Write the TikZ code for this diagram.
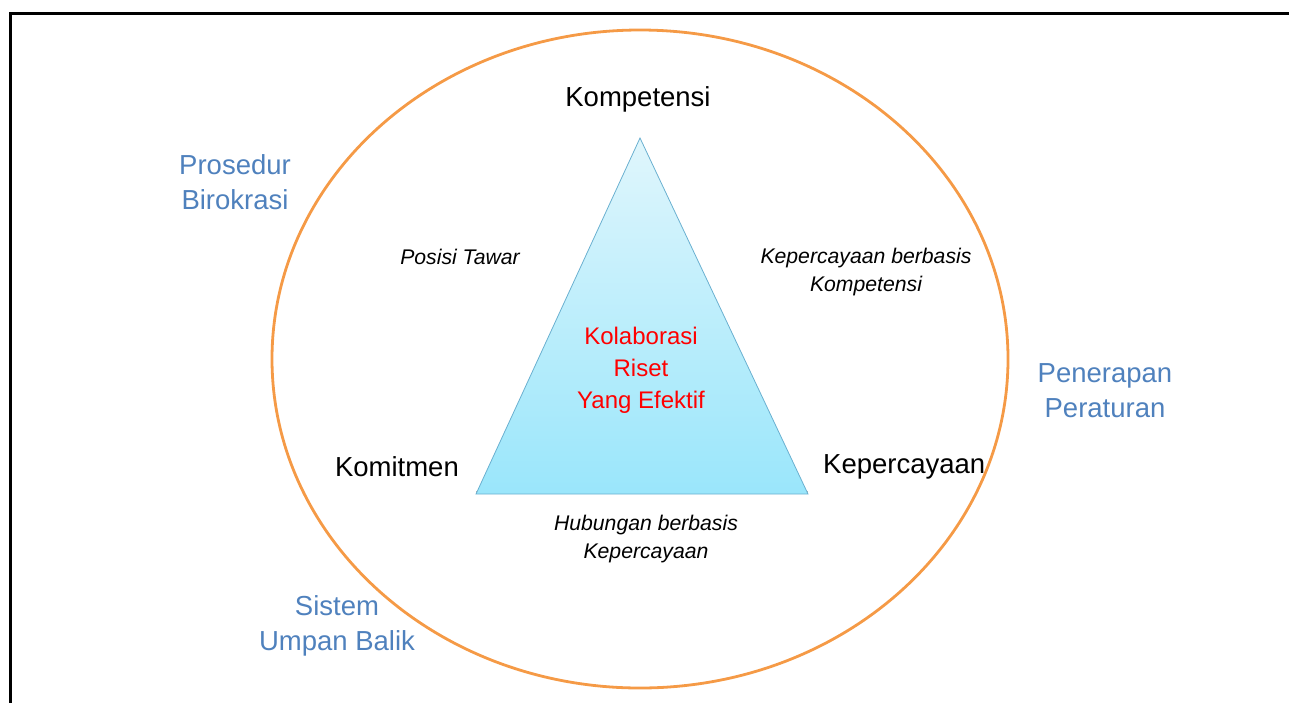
\documentclass[tikz,border=0pt]{standalone}
\usepackage{fontspec}
\setmainfont{Liberation Sans}
\usetikzlibrary{positioning}
\definecolor{blueT}{HTML}{4F81BD}
\definecolor{orangeE}{HTML}{F59A46}
\definecolor{cyanTop}{HTML}{E0F6FC}
\definecolor{cyanBot}{HTML}{9AE6FB}
\definecolor{cyanLine}{HTML}{6AB0D0}

\begin{document}
\begin{tikzpicture}[x=1pt, y=-1pt,
		big/.style  = {font=\fontsize{27.5}{35}\selectfont, align=center, inner sep=0},
		side/.style = {big, text=blueT},
		lbl/.style  = {font=\fontsize{21.2}{27.5}\selectfont\itshape, align=center, inner sep=0},
		core/.style = {font=\fontsize{24}{32}\selectfont, align=center, inner sep=0, text=red}
		]
		\useasboundingbox (0,0) rectangle (1289,702);
		
		%Frame
		\draw[line width=3pt]	(10,13) rectangle (1310,730);
		
		%Ellipse
		\draw[orangeE, line width=2.8pt]	(640,359) ellipse [x radius=368, y radius=329];
		
		%Triangle
		\coordinate	(top)	at	(640,138);
		\coordinate	(bl)	at	(476,494);
		\coordinate	(br)	at	(808,494);
		\draw[black!30, line width=1.5pt, densely dotted]	([yshift=2]bl) -- ([yshift=2]br);
		\path[draw=cyanLine, line width=0.8pt, top color=cyanTop, bottom color=cyanBot]
			(top) -- (br) -- (bl) -- cycle;
		
		%Corners
		\node[big]	(komp)	at	(638,99)	{Kompetensi};
		\node[big, anchor=east]	(komit)	at	(459,467)	{Komitmen};
		\node[big, anchor=west]	(kep)	at	(823,467)	{Kepercayaan};
		
		%Sides
		\node[lbl]	(tawar)	at	(460,257)	{Posisi Tawar};
		\node[lbl]	(kepkomp)	at	(866,272)	{Kepercayaan berbasis\\Kompetensi};
		\node[lbl]	(hub)	at	(646,539)	{Hubungan berbasis\\Kepercayaan};
		
		%Centre
		\node[core]	(kolab)	at	(641,370)	{Kolaborasi\\Riset\\Yang Efektif};
		
		%Outside
		\node[side]	(prosedur)	at	(235,182)	{Prosedur\\Birokrasi};
		\node[side]	(penerapan)	at	(1105,391)	{Penerapan\\Peraturan};
		\node[side]	(sistem)	at	(337,626)	{Sistem\\Umpan Balik};
	\end{tikzpicture}
\end{document}
